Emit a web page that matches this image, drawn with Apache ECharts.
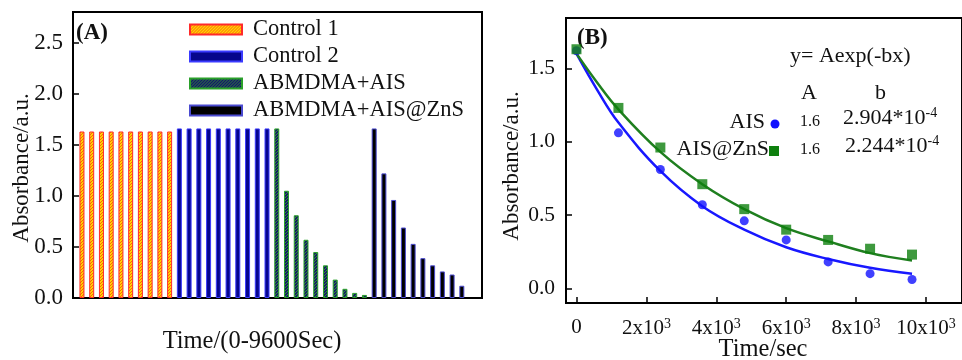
<!DOCTYPE html>
<html><head><meta charset="utf-8">
<script src="https://cdn.jsdelivr.net/npm/echarts@6/dist/echarts.min.js"></script>
<style>html,body{margin:0;padding:0;background:#fff}#c{width:962px;height:360px}</style>
</head><body><div id="c"></div>
<script>
// ---------- Panel A data ----------
var seriesNamesA = ['Control 1', 'Control 2', 'ABMDMA+AIS', 'ABMDMA+AIS@ZnS'];
var control1 = [1.63, 1.63, 1.63, 1.63, 1.63, 1.63, 1.63, 1.63, 1.63, 1.63];
var control2 = [1.66, 1.66, 1.66, 1.66, 1.66, 1.66, 1.66, 1.66, 1.66, 1.66];
var abmdmaAis = [1.66, 1.05, 0.81, 0.57, 0.45, 0.32, 0.18, 0.09, 0.05, 0.03];
var abmdmaAisZns = [1.66, 1.22, 0.96, 0.69, 0.53, 0.39, 0.32, 0.26, 0.23, 0.12];
var yTicksA = [0, 0.5, 1.0, 1.5, 2.0, 2.5];

// ---------- Panel B data ----------
var timeSec = [0, 1200, 2400, 3600, 4800, 6000, 7200, 8400, 9600];
var aisAbs = [1.62, 1.06, 0.81, 0.57, 0.46, 0.33, 0.18, 0.10, 0.06];
var aisZnsAbs = [1.63, 1.23, 0.96, 0.71, 0.54, 0.40, 0.33, 0.27, 0.23];
// fitted curves
var fitTime = [0, 600, 1200, 2400, 3600, 4800, 6000, 7200, 8400, 9600];
var aisFit = [1.60, 1.35, 1.13, 0.80, 0.56, 0.40, 0.28, 0.20, 0.14, 0.10];
var aisZnsFit = [1.60, 1.40, 1.22, 0.93, 0.71, 0.54, 0.41, 0.32, 0.24, 0.19];
var xTicksB = [0, 2000, 4000, 6000, 8000, 10000];
var yTicksB = [0, 0.5, 1.0, 1.5];

var FONT = '"Liberation Serif", "Times New Roman", serif';

function makePattern(bg, fg, step) {
  var c = document.createElement('canvas');
  c.width = step; c.height = step;
  var g = c.getContext('2d');
  g.fillStyle = bg; g.fillRect(0, 0, step, step);
  g.fillStyle = fg;
  for (var i = 0; i < step; i++) { g.fillRect(i, step - 1 - i, 1, 1); }
  return {image: c, repeat: 'repeat'};
}
var patOrange = makePattern('#FFD800', '#FF5a10', 3);
var patGreen = makePattern('#14146e', '#2f8f2f', 3);

var groupsA = [control1, control2, abmdmaAis, abmdmaAisZns];
var stylesA = [
  {color: patOrange, borderColor: '#ff2a2a', borderWidth: 1},
  {color: '#06068c', borderColor: '#3a3aff', borderWidth: 1},
  {color: patGreen, borderColor: '#2aa02a', borderWidth: 1},
  {color: '#000000', borderColor: '#4a4ad0', borderWidth: 1}
];
var barSeries = groupsA.map(function (arr, k) {
  return {
    name: seriesNamesA[k], type: 'bar', xAxisIndex: 0, yAxisIndex: 0,
    barWidth: 5, barGap: '-100%',
    itemStyle: stylesA[k],
    data: arr.map(function (v, i) { return [k * arr.length + i, v]; })
  };
});

function zip(xs, ys) { return xs.map(function (x, i) { return [x, ys[i]]; }); }

var supRich = {
  m: {fontFamily: FONT, fontSize: 22, fill: '#111'},
  s: {fontFamily: FONT, fontSize: 14, fill: '#111', verticalAlign: 'top', padding: [0, 0, 10, 0]}
};

var chart = echarts.init(document.getElementById('c'), null, {renderer: 'canvas'});
var option = {
  backgroundColor: '#fff',
  animation: false,
  textStyle: {fontFamily: FONT, color: '#111'},
  legend: {
    data: seriesNamesA, orient: 'vertical', left: 184, top: 13,
    icon: 'rect', itemWidth: 52, itemHeight: 10, itemGap: 4,
    textStyle: {fontFamily: FONT, fontSize: 22.5, color: '#111', padding: [0, 0, 0, 6]},
    selectedMode: false
  },
  grid: [
    {left: 73, top: 12, width: 409, height: 286, show: true, borderColor: '#000', borderWidth: 2,
     backgroundColor: 'transparent', outerBoundsMode: 'none', containLabel: false},
    {left: 566, top: 18, right: 0, height: 285, show: true, borderColor: '#000', borderWidth: 2,
     backgroundColor: 'transparent', outerBoundsMode: 'none', containLabel: false}
  ],
  xAxis: [
    {gridIndex: 0, type: 'value', min: -0.92, max: 41.07,
     axisLine: {onZero: false, lineStyle: {color: '#000', width: 2}}, axisTick: {show: false},
     axisLabel: {show: false}, splitLine: {show: false}},
    {gridIndex: 1, type: 'value', min: -300, max: 11030,
     axisLine: {onZero: false, lineStyle: {color: '#000', width: 2}},
     axisTick: {inside: true, length: 6, lineStyle: {color: '#000', width: 1.5}, customValues: xTicksB},
     axisLabel: {customValues: xTicksB, margin: 14, fontFamily: FONT, fontSize: 21, color: '#111',
       formatter: function (v) { return v === 0 ? '0' : '{b|' + (v / 1000) + 'x10}{s|3}'; },
       rich: {b: {fontFamily: FONT, fontSize: 21, color: '#111'}, s: {fontFamily: FONT, fontSize: 14, color: '#111', verticalAlign: 'top', padding: [0, 0, 9, 0]}}},
     splitLine: {show: false}}
  ],
  yAxis: [
    {gridIndex: 0, type: 'value', min: 0, max: 2.8,
     axisLine: {onZero: false, lineStyle: {color: '#000', width: 2}},
     axisTick: {inside: true, length: 6, lineStyle: {color: '#000', width: 1.5}, customValues: yTicksA},
     axisLabel: {customValues: yTicksA, margin: 10, fontFamily: FONT, fontSize: 23, color: '#111',
       formatter: function (v) { return v.toFixed(1); }},
     splitLine: {show: false}},
    {gridIndex: 1, type: 'value', min: -0.1, max: 1.843,
     axisLine: {onZero: false, lineStyle: {color: '#000', width: 2}},
     axisTick: {inside: true, length: 6, lineStyle: {color: '#000', width: 1.5}, customValues: yTicksB},
     axisLabel: {customValues: yTicksB, margin: 11, fontFamily: FONT, fontSize: 21.5, color: '#111',
       formatter: function (v) { return v.toFixed(1); }},
     splitLine: {show: false}}
  ],
  series: barSeries.concat([
    {name: 'AIS fit', type: 'line', xAxisIndex: 1, yAxisIndex: 1, smooth: 0.4, showSymbol: false,
     lineStyle: {color: '#1818ff', width: 2.5}, data: zip(fitTime, aisFit), z: 3},
    {name: 'AIS@ZnS fit', type: 'line', xAxisIndex: 1, yAxisIndex: 1, smooth: 0.4, showSymbol: false,
     lineStyle: {color: '#1f7f1f', width: 2.5}, data: zip(fitTime, aisZnsFit), z: 3},
    {name: 'AIS', type: 'scatter', xAxisIndex: 1, yAxisIndex: 1, symbol: 'circle', symbolSize: 9,
     itemStyle: {color: '#1010ff'}, data: zip(timeSec, aisAbs), z: 4},
    {name: 'AIS@ZnS', type: 'scatter', xAxisIndex: 1, yAxisIndex: 1, symbol: 'rect', symbolSize: 10,
     itemStyle: {color: '#0e800e'}, data: zip(timeSec, aisZnsAbs), z: 5}
  ]),
  graphic: [
    // axis titles
    {type: 'text', x: 22, y: 168, rotation: Math.PI / 2,
     style: {text: 'Absorbance/a.u.', fontFamily: FONT, fontSize: 23, fill: '#111', align: 'center', verticalAlign: 'middle'}},
    {type: 'text', x: 252, y: 342,
     style: {text: 'Time/(0-9600Sec)', fontFamily: FONT, fontSize: 24.5, fill: '#111', align: 'center', verticalAlign: 'middle'}},
    {type: 'text', x: 512, y: 166, rotation: Math.PI / 2,
     style: {text: 'Absorbance/a.u.', fontFamily: FONT, fontSize: 23, fill: '#111', align: 'center', verticalAlign: 'middle'}},
    {type: 'text', x: 763, y: 350,
     style: {text: 'Time/sec', fontFamily: FONT, fontSize: 24.5, fill: '#111', align: 'center', verticalAlign: 'middle'}},
    // panel labels
    {type: 'text', left: 76, top: 22, style: {text: '(A)', fontFamily: FONT, fontSize: 23, fontWeight: 'bold', fill: '#111'}},
    {type: 'text', left: 577, top: 27, style: {text: '(B)', fontFamily: FONT, fontSize: 23, fontWeight: 'bold', fill: '#111'}},
    // fit annotation
    {type: 'text', left: 790, top: 45, style: {text: 'y= Aexp(-bx)', fontFamily: FONT, fontSize: 22, fill: '#111'}},
    {type: 'text', left: 801, top: 82, style: {text: 'A', fontFamily: FONT, fontSize: 22, fill: '#111'}},
    {type: 'text', left: 875, top: 82, style: {text: 'b', fontFamily: FONT, fontSize: 22, fill: '#111'}},
    {type: 'text', right: 197, top: 111, style: {text: 'AIS', fontFamily: FONT, fontSize: 22, fill: '#111'}},
    {type: 'circle', shape: {cx: 775, cy: 124, r: 4.5}, style: {fill: '#1010ff'}},
    {type: 'text', left: 800, top: 114, style: {text: '1.6', fontFamily: FONT, fontSize: 16, fill: '#111'}},
    {type: 'text', left: 843, top: 106, style: {rich: supRich, text: '{m|2.904*10}{s|-4}'}},
    {type: 'text', right: 193, top: 138, style: {text: 'AIS@ZnS', fontFamily: FONT, fontSize: 22, fill: '#111'}},
    {type: 'rect', shape: {x: 769, y: 146, width: 10, height: 10}, style: {fill: '#0e800e'}},
    {type: 'text', left: 800, top: 142, style: {text: '1.6', fontFamily: FONT, fontSize: 16, fill: '#111'}},
    {type: 'text', left: 845, top: 134, style: {rich: supRich, text: '{m|2.244*10}{s|-4}'}}
  ]
};
chart.setOption(option);
</script></body></html>
